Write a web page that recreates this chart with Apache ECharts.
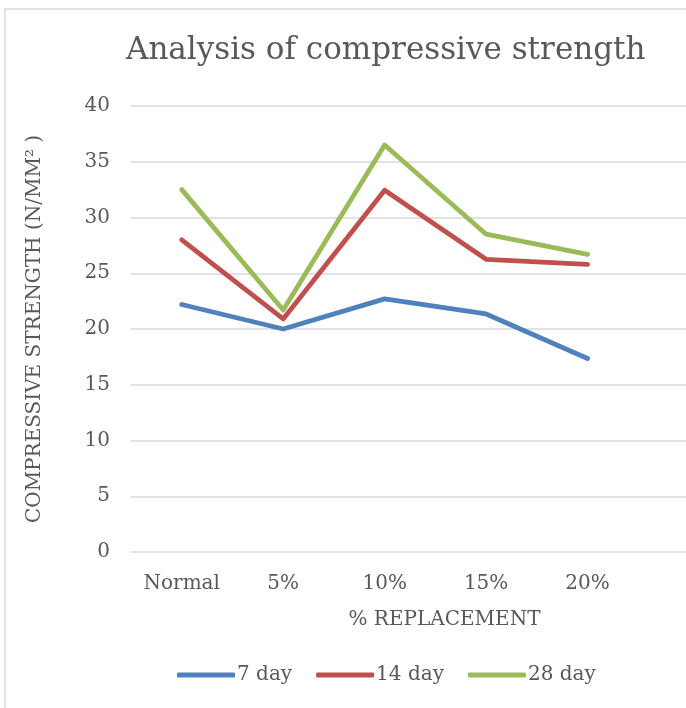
<!DOCTYPE html>
<html>
<head>
<meta charset="utf-8">
<script src="https://cdn.jsdelivr.net/npm/echarts@6/dist/echarts.min.js"></script>
<style>html,body{margin:0;padding:0;background:#fff;}#c{width:686px;height:708px;}</style>
</head>
<body>
<div id="c"></div>
<script>
const categories = ['Normal', '5%', '10%', '15%', '20%'];
const day7 = [22.2, 20.0, 22.7, 21.35, 17.35];
const day14 = [28.0, 20.9, 32.45, 26.25, 25.8];
const day28 = [32.5, 21.7, 36.5, 28.5, 26.7];
const yTicks = { min: 0, max: 40, interval: 5 };

const FONT = 'DejaVu Serif';
const TXT = '#595959';
const pairs = arr => arr.map((v, i) => [i, v]);
const chart = echarts.init(document.getElementById('c'));
chart.setOption({
  animation: false,
  backgroundColor: '#fff',
  textStyle: { fontFamily: FONT, color: TXT },
  graphic: [{
    type: 'rect', shape: { x: 5, y: 9, width: 720, height: 740 },
    style: { fill: 'none', stroke: '#d9d9d9', lineWidth: 1.5 }, z: -1
  }],
  title: {
    text: 'Analysis of compressive strength',
    left: 121, top: 30,
    textStyle: { fontFamily: FONT, fontSize: 31, fontWeight: 'normal', color: TXT }
  },
  legend: {
    bottom: 18, left: 172,
    itemWidth: 58, itemHeight: 5, itemGap: 24,
    icon: 'roundRect',
    textStyle: { fontFamily: FONT, fontSize: 20, color: TXT, padding: [0, 0, 0, -3] },
    data: ['7 day', '14 day', '28 day']
  },
  grid: { left: 131, right: 0, top: 106, bottom: 156, containLabel: false },
  xAxis: {
    type: 'value', min: -0.5, max: 4.97, interval: 0.5,
    axisLine: { show: false }, axisTick: { show: false }, splitLine: { show: false },
    axisLabel: {
      fontFamily: FONT, fontSize: 20, color: TXT, margin: 22,
      showMinLabel: true, showMaxLabel: false,
      formatter: v => (Number.isInteger(v) && categories[v] !== undefined) ? categories[v] : ''
    },
    name: '% REPLACEMENT', nameLocation: 'middle', nameGap: 58,
    nameTextStyle: { fontFamily: FONT, fontSize: 20, color: TXT, padding: [0, 0, 0, 72] }
  },
  yAxis: {
    type: 'value', min: yTicks.min, max: yTicks.max, interval: yTicks.interval,
    axisLine: { show: false }, axisTick: { show: false },
    axisLabel: { fontFamily: FONT, fontSize: 20, color: TXT, margin: 21 },
    splitLine: { lineStyle: { color: '#d9d9d9', width: 1.5 } },
    name: 'COMPRESSIVE STRENGTH (N/MM\u00B2 )', nameLocation: 'middle', nameGap: 86,
    nameTextStyle: { fontFamily: FONT, fontSize: 20, color: TXT }
  },
  series: [
    { name: '7 day', type: 'line', data: pairs(day7), showSymbol: false, symbol: 'none',
      lineStyle: { color: '#4f81bd', width: 4.8, cap: 'round', join: 'round' }, itemStyle: { color: '#4f81bd' } },
    { name: '14 day', type: 'line', data: pairs(day14), showSymbol: false, symbol: 'none',
      lineStyle: { color: '#c0504d', width: 4.8, cap: 'round', join: 'round' }, itemStyle: { color: '#c0504d' } },
    { name: '28 day', type: 'line', data: pairs(day28), showSymbol: false, symbol: 'none',
      lineStyle: { color: '#9bbb59', width: 4.8, cap: 'round', join: 'round' }, itemStyle: { color: '#9bbb59' } }
  ]
});
</script>
</body>
</html>
